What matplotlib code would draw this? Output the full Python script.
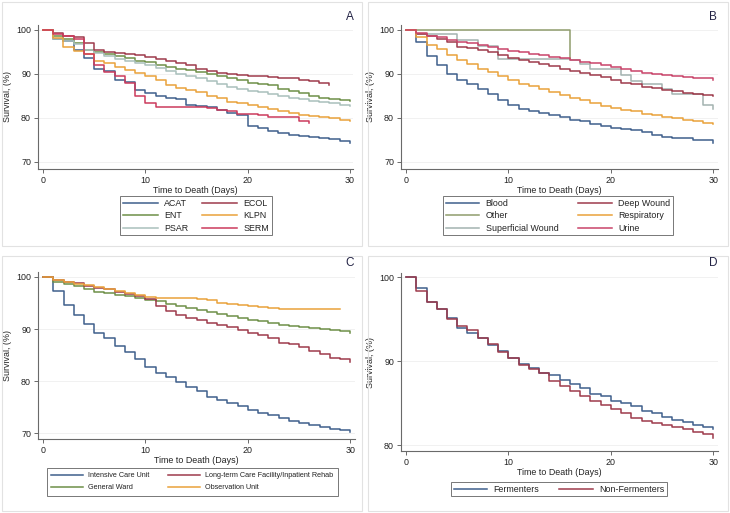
import matplotlib
matplotlib.use("Agg")
import matplotlib.pyplot as plt
import numpy as np
from matplotlib.patches import Rectangle

plt.rcParams['font.family'] = ['Liberation Sans', 'DejaVu Sans']

days = np.arange(0, 31)

# Panel A: organism
acat = [100, 98.0, 97.5, 95.5, 93.6, 91.1, 90.6, 88.7, 88.2, 86.3, 85.6, 85.0, 84.6, 84.2, 83.0,
        82.7, 82.4, 81.7, 81.2, 80.7, 78.2, 77.8, 77.0, 76.6, 76.2, 75.9, 75.6, 75.4, 75.2, 74.8, 74.4]
ecol = [100, 99.3, 98.6, 98.3, 97.0, 95.5, 95.0, 94.7, 94.5, 94.2, 93.8, 93.3, 93.0, 92.5, 92.0,
        91.2, 90.7, 90.3, 90.0, 89.8, 89.6, 89.5, 89.4, 89.0, 89.0, 88.6, 88.4, 88.0, 87.4]
ent = [100, 98.5, 98.0, 97.0, 95.5, 95.0, 94.5, 94.0, 93.5, 93.0, 92.6, 92.0, 91.6, 91.2, 90.8,
       90.5, 90.0, 89.5, 89.0, 88.5, 88.0, 87.8, 87.4, 86.6, 86.2, 85.7, 85.0, 84.6, 84.2, 84.0, 83.8]
klpn = [100, 98.2, 96.0, 95.2, 94.5, 93.0, 92.5, 91.5, 90.8, 90.3, 89.5, 88.5, 87.5, 86.7, 86.3,
        85.8, 85.0, 84.5, 83.7, 83.3, 82.9, 82.5, 82.0, 81.5, 81.1, 80.7, 80.4, 80.1, 79.9, 79.6, 79.3]
psar = [100, 98.0, 97.5, 96.8, 95.5, 94.7, 94.0, 93.3, 93.0, 92.4, 92.0, 91.4, 90.6, 90.0, 89.5,
        89.0, 88.3, 87.6, 87.0, 86.5, 86.0, 85.8, 85.4, 84.9, 84.5, 84.2, 83.9, 83.6, 83.3, 83.0, 82.6]
serm = [100, 99.0, 98.5, 98.0, 94.5, 92.0, 90.5, 89.5, 88.0, 85.0, 83.3, 82.5, 82.5, 82.5, 82.5,
        82.5, 82.3, 81.7, 81.5, 81.0, 80.8, 80.6, 80.2, 80.2, 80.2, 79.4, 78.8]

# Panel B: source
blood = [100, 97.2, 94.0, 92.1, 90.0, 88.6, 87.6, 86.6, 85.5, 84.0, 82.9, 82.0, 81.6, 81.2, 80.6,
         80.3, 79.6, 79.3, 78.7, 78.2, 77.8, 77.5, 77.3, 76.8, 76.2, 75.6, 75.5, 75.4, 75.0, 74.9, 74.4]
other_days = [0, 16]
other = [100, 93.3]
deep = [100, 99.0, 98.5, 98.0, 97.3, 96.2, 95.8, 95.4, 95.0, 94.2, 93.6, 93.1, 92.7, 92.2, 91.7,
        91.2, 90.6, 90.2, 89.8, 89.2, 88.6, 88.0, 87.6, 87.1, 86.7, 86.3, 86.0, 85.7, 85.5, 85.3, 84.9]
resp = [100, 98.3, 96.5, 95.6, 94.2, 93.2, 92.3, 91.2, 90.5, 89.6, 88.6, 87.8, 87.2, 86.5, 85.8,
        85.2, 84.5, 84.0, 83.4, 82.8, 82.3, 81.9, 81.5, 81.0, 80.6, 80.3, 80.0, 79.6, 79.2, 78.9, 78.6]
superf = [100, 99.1, 99.1, 99.1, 99.1, 97.6, 97.6, 96.4, 96.4, 93.3, 93.3, 93.3, 93.3, 93.3, 93.3,
          93.3, 93.2, 92.2, 91.0, 91.0, 91.0, 89.8, 88.3, 87.6, 87.6, 86.6, 85.5, 85.5, 85.5, 83.0, 82.0]
urine = [100, 99.3, 98.7, 98.3, 97.8, 97.3, 96.9, 96.5, 96.1, 95.7, 95.3, 94.9, 94.6, 94.2, 93.8,
         93.5, 93.2, 92.8, 92.4, 92.0, 91.6, 91.1, 90.7, 90.3, 90.0, 89.8, 89.5, 89.3, 89.1, 89.0, 88.6]

# Panel C: location
icu = [100, 97.3, 94.7, 92.7, 91.0, 89.3, 88.2, 86.8, 85.5, 84.2, 82.7, 81.6, 80.8, 79.8, 78.8,
       78.1, 77.0, 76.4, 75.7, 75.1, 74.5, 73.9, 73.4, 72.9, 72.4, 71.9, 71.5, 71.1, 70.7, 70.5, 70.2]
ward = [100, 99.0, 98.6, 98.3, 97.6, 97.2, 96.9, 96.6, 96.3, 96.0, 95.6, 95.3, 94.8, 94.5, 94.1,
        93.7, 93.3, 92.9, 92.5, 92.2, 91.8, 91.5, 91.1, 90.8, 90.5, 90.4, 90.2, 90.0, 89.8, 89.6, 89.3]
ltcf = [100, 99.4, 99.0, 98.9, 98.2, 97.9, 97.6, 97.2, 96.8, 96.4, 95.8, 94.4, 93.4, 92.6, 92.2,
        91.7, 91.2, 90.8, 90.4, 89.8, 89.3, 88.8, 88.2, 87.4, 87.1, 86.5, 85.8, 85.1, 84.5, 84.2, 83.7]
obs = [100, 99.5, 99.0, 98.7, 98.5, 98.0, 97.7, 97.3, 96.9, 96.6, 96.2, 96.0, 96.0, 96.0, 96.0,
       95.8, 95.5, 95.0, 94.8, 94.6, 94.5, 94.3, 94.1, 93.9, 93.9, 93.9, 93.9, 93.9, 93.9, 93.8]

# Panel D: fermentation
ferm = [100, 98.7, 97.1, 96.2, 95.1, 93.9, 93.3, 92.7, 91.9, 91.2, 90.4, 89.7, 89.2, 88.6, 88.3,
        87.7, 87.3, 86.8, 86.1, 85.8, 85.3, 85.0, 84.7, 84.1, 83.8, 83.4, 83.0, 82.8, 82.4, 82.2, 81.9]
nonferm = [100, 98.4, 97.0, 96.2, 95.0, 94.2, 93.7, 92.7, 92.0, 91.1, 90.4, 89.6, 89.1, 88.6, 87.6,
           87.1, 86.4, 85.8, 85.3, 84.8, 84.3, 83.8, 83.2, 82.9, 82.6, 82.4, 82.2, 81.9, 81.6, 81.3, 80.9]

BLUE = '#3f5f8c'
DRED = '#9e3a4b'
GREEN = '#6e8f48'
ORANGE = '#e9a23b'
LGRAY = '#a9c0bc'
CRIMSON = '#cc3a5c'
OLIVE = '#8f9c6c'
GRAY = '#a3b3b0'
PINK = '#c9446a'

W, H = 730, 513
fig = plt.figure(figsize=(W / 100, H / 100), dpi=100)
fig.patch.set_facecolor('white')


def rect(l, t, r, b):
    return [l / W, 1 - b / H, (r - l) / W, (b - t) / H]


# panel frames
for (l, t, r, b) in [(2, 2, 362, 246), (368, 2, 728, 246), (2, 256, 362, 511), (368, 256, 728, 511)]:
    fig.add_artist(Rectangle((l / W, 1 - b / H), (r - l) / W, (b - t) / H, transform=fig.transFigure,
                             fill=False, edgecolor='#e2e2e2', lw=0.8))


def style(ax, ylim, yticks):
    ax.set_xlim(-0.49, 30.45)
    ax.set_ylim(*ylim)
    ax.set_xticks([0, 10, 20, 30])
    ax.set_yticks(yticks)
    for s in ['top', 'right']:
        ax.spines[s].set_visible(False)
    for s in ['left', 'bottom']:
        ax.spines[s].set_color('#6a6a6a')
        ax.spines[s].set_linewidth(0.8)
    ax.tick_params(direction='out', length=3, width=0.7, color='#6a6a6a', labelsize=6.4, pad=2,
                   labelcolor='#222222')
    ax.yaxis.grid(True, color='#efefef', lw=0.6)
    ax.set_axisbelow(True)
    ax.set_ylabel('Survival, (%)', fontsize=6.4, color='#222222', labelpad=3)
    ax.set_xlabel('Time to Death (Days)', fontsize=6.4, color='#222222', labelpad=1)


def letter(txt, r, y):
    fig.text(r / W, 1 - y / H, txt, ha='right', va='center', fontsize=8.5, color='#222244')


def km(ax, x, y, color, label):
    return ax.step(x, y, where='post', color=color, lw=1.1, label=label)[0]


# A
axA = fig.add_axes(rect(38, 25, 353, 169))
hA = [km(axA, days[:len(acat)], acat, BLUE, 'ACAT'),
      km(axA, days[:len(ent)], ent, GREEN, 'ENT'),
      km(axA, days[:len(psar)], psar, LGRAY, 'PSAR'),
      km(axA, days[:len(ecol)], ecol, DRED, 'ECOL'),
      km(axA, days[:len(klpn)], klpn, ORANGE, 'KLPN'),
      km(axA, days[:len(serm)], serm, CRIMSON, 'SERM')]
style(axA, (68.4, 101.1), [70, 80, 90, 100])
axA.set_xlim(-0.49, 30.3)
letter('A', 354, 17)

# B
axB = fig.add_axes(rect(401, 25, 718, 169))
hB = [km(axB, days, blood, BLUE, 'Blood'),
      km(axB, other_days, other, OLIVE, 'Other'),
      km(axB, days, superf, GRAY, 'Superficial Wound'),
      km(axB, days, deep, DRED, 'Deep Wound'),
      km(axB, days, resp, ORANGE, 'Respiratory'),
      km(axB, days, urine, PINK, 'Urine')]
style(axB, (68.4, 101.1), [70, 80, 90, 100])
letter('B', 717, 17)

# C
axC = fig.add_axes(rect(38, 272, 355, 439))
hC = [km(axC, days, icu, BLUE, 'Intensive Care Unit'),
      km(axC, days, ward, GREEN, 'General Ward'),
      km(axC, days, ltcf, DRED, 'Long-term Care Facility/Inpatient Rehab'),
      km(axC, days[:len(obs)], obs, ORANGE, 'Observation Unit')]
style(axC, (68.85, 100.96), [70, 80, 90, 100])
letter('C', 354, 263)

# D
axD = fig.add_axes(rect(401, 273, 718, 451))
hD = [km(axD, days, ferm, BLUE, 'Fermenters'),
      km(axD, days, nonferm, DRED, 'Non-Fermenters')]
style(axD, (79.3, 100.5), [80, 90, 100])
letter('D', 717, 263)


def legend(handles, l, t, fs, hl, cs, pad=0.3, ls=0.4):
    leg = fig.legend(handles=handles, loc='upper left', bbox_to_anchor=(l / W, 1 - t / H), ncol=2,
                     fontsize=fs, handlelength=hl, columnspacing=cs, frameon=True, fancybox=False,
                     borderpad=pad, borderaxespad=0, labelspacing=ls, handletextpad=0.7)
    leg.get_frame().set_edgecolor('#555555')
    leg.get_frame().set_linewidth(0.7)
    for t_ in leg.get_texts():
        t_.set_color('#222222')
    return leg


legend(hA, 120, 196, 6.4, 4.0, 1.5)
legend(hB, 443, 196, 6.4, 3.8, 2.2)
legend(hC, 47, 468, 5.2, 4.4, 2.6, pad=0.6, ls=0.7)
legend(hD, 451, 482, 6.4, 3.8, 2.2)

fig.savefig('out.png', dpi=100, facecolor='white')
